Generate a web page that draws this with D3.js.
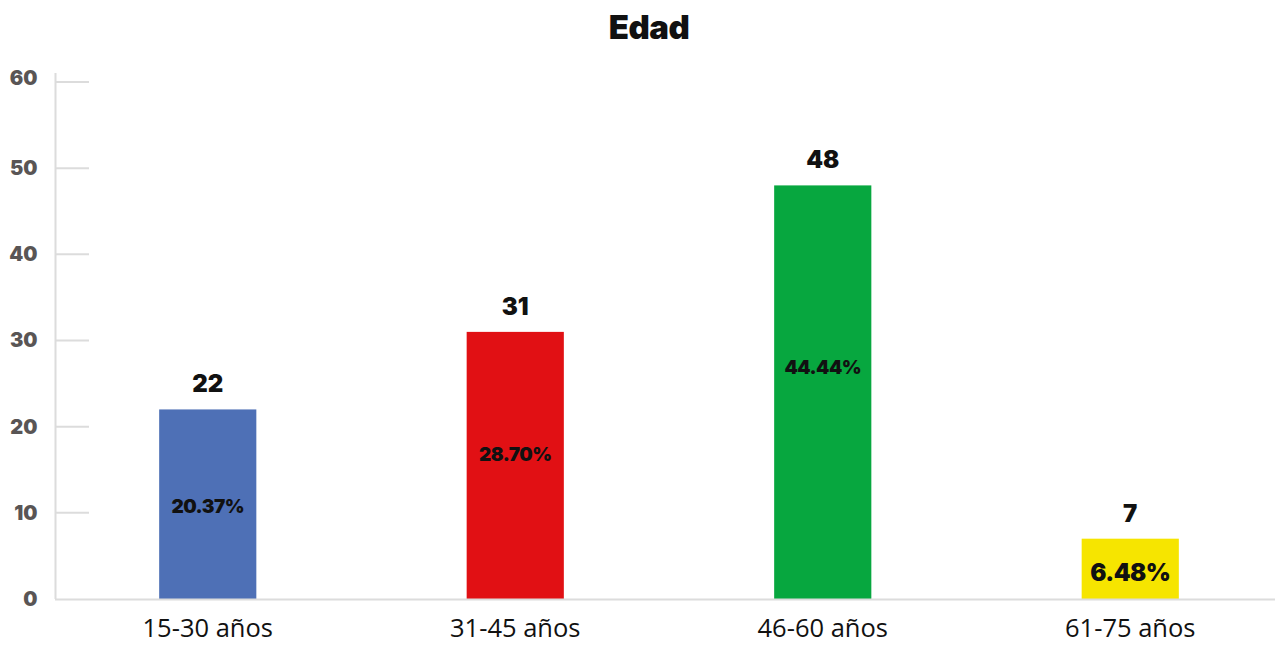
<!DOCTYPE html>
<html>
<head>
<meta charset="utf-8">
<script src="https://cdn.jsdelivr.net/npm/d3@7"></script>
<style>
  body { margin: 0; background: #fff; }
  svg { display: block; }
</style>
</head>
<body>
<svg id="chart" width="1275" height="645"></svg>
<script>
// Age groups and respondent counts
const categories = ["15-30 años", "31-45 años", "46-60 años", "61-75 años"];
const counts = [22, 31, 48, 7];
const percentLabels = ["20.37%", "28.70%", "44.44%", "6.48%"];
const barColors = ["#4E70B6", "#E11014", "#07A73F", "#F6E500"];
const yTicks = [0, 10, 20, 30, 40, 50, 60];

const svg = d3.select("#chart");
const x0 = 54, x1 = 1284, yBase = 599, yTop = 82, axisX = 55.5;

const x = d3.scaleBand().domain(categories).range([x0, x1]).paddingInner(0.684).paddingOuter(0.342);
const y = d3.scaleLinear().domain([0, 60]).range([yBase, yTop]);

const heavy = "'Inter', 'Lato', sans-serif";

// Title
svg.append("text")
  .attr("x", 649).attr("y", 39)
  .attr("text-anchor", "middle")
  .attr("font-family", heavy).attr("font-weight", 900)
  .attr("font-size", 33).attr("letter-spacing", -0.5).attr("fill", "#111")
  .text("Edad");

// Y axis labels
const yAxis = d3.axisLeft(y).tickValues(yTicks).tickSize(0);
const gy = svg.append("g").attr("transform", `translate(${axisX},0)`).call(yAxis);
gy.select(".domain").remove();
gy.selectAll("text")
  .attr("font-family", heavy).attr("font-weight", 900)
  .attr("font-size", 20).attr("fill", "#595555")
  .attr("text-anchor", "end").attr("x", -18)
  .attr("dy", "0.32em")
  .attr("transform", d => d === 60 ? "translate(0,-4)" : null);

// Vertical axis line and short tick marks
svg.append("line")
  .attr("x1", axisX).attr("x2", axisX).attr("y1", 73).attr("y2", yBase)
  .attr("stroke", "#dcdcdc").attr("stroke-width", 2);

svg.append("g").selectAll("line")
  .data(yTicks.filter(d => d > 0))
  .join("line")
  .attr("x1", 56).attr("x2", 89)
  .attr("y1", d => y(d)).attr("y2", d => y(d))
  .attr("stroke", "#dcdcdc").attr("stroke-width", 2);

// Bars
svg.append("g").selectAll("rect")
  .data(counts)
  .join("rect")
  .attr("x", (d, i) => x(categories[i]))
  .attr("width", x.bandwidth())
  .attr("y", d => y(d))
  .attr("height", d => yBase - y(d))
  .attr("fill", (d, i) => barColors[i]);

// Horizontal baseline
svg.append("line")
  .attr("x1", 55).attr("x2", 1275).attr("y1", yBase + 0.5).attr("y2", yBase + 0.5)
  .attr("stroke", "#dcdcdc").attr("stroke-width", 2);

// Category labels
const xAxis = d3.axisBottom(x).tickSize(0).tickPadding(20);
const gx = svg.append("g").attr("transform", `translate(0,${yBase})`).call(xAxis);
gx.select(".domain").remove();
gx.selectAll("text")
  .attr("font-family", "'Open Sans', sans-serif")
  .attr("font-size", 25.5).attr("fill", "#111");

// Count labels above bars
svg.append("g").selectAll("text")
  .data(counts)
  .join("text")
  .attr("x", (d, i) => x(categories[i]) + x.bandwidth() / 2)
  .attr("y", d => y(d) - 17)
  .attr("text-anchor", "middle")
  .attr("font-family", heavy).attr("font-weight", 900)
  .attr("font-size", 24).attr("fill", "#111")
  .text(d => d);

// Percentage labels inside bars (vertical position as a fraction of bar height)
const labelFrac = [0.51, 0.46, 0.44, 0.56];
svg.append("g").selectAll("text")
  .data(counts)
  .join("text")
  .attr("x", (d, i) => x(categories[i]) + x.bandwidth() / 2)
  .attr("y", (d, i) => y(d) + (yBase - y(d)) * labelFrac[i])
  .attr("dy", "0.35em")
  .attr("text-anchor", "middle")
  .attr("font-family", heavy).attr("font-weight", 900)
  .attr("font-size", (d, i) => i === 3 ? 24 : 19).attr("letter-spacing", -0.5).attr("fill", "#111")
  .text((d, i) => percentLabels[i]);
</script>
</body>
</html>
